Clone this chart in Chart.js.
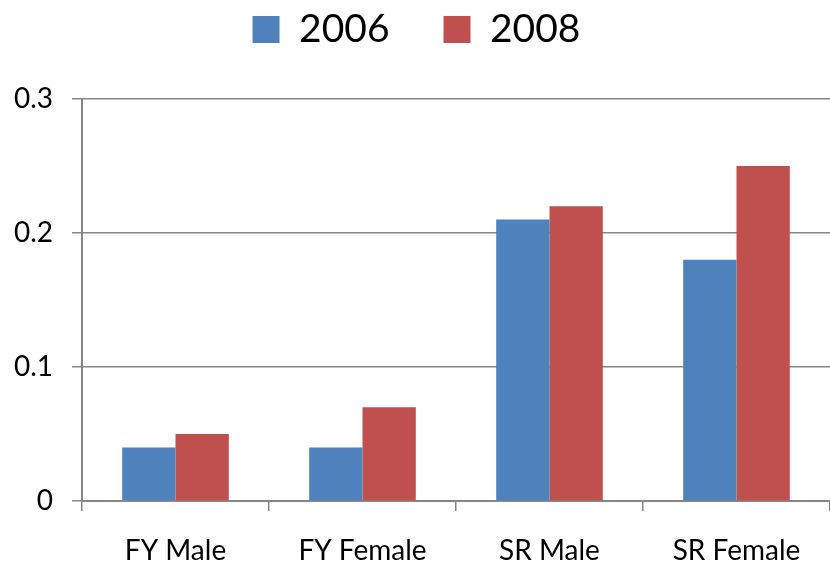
<!DOCTYPE html>
<html lang="en">
<head>
  <meta charset="UTF-8" />
  <title>2006 vs 2008</title>
  <script src="https://cdn.jsdelivr.net/npm/chart.js"></script>
  <style>
    html, body { margin: 0; padding: 0; background: #fff; }
    #wrap { width: 830px; height: 565px; }
  </style>
</head>
<body>
  <div id="wrap"><canvas id="grafico"></canvas></div>

  <script>
    // dados
    const categorias = ["FY Male", "FY Female", "SR Male", "SR Female"];
    const valores2006 = [0.04, 0.04, 0.21, 0.18];
    const valores2008 = [0.05, 0.07, 0.22, 0.25];
    const ticksY = [0, 0.1, 0.2, 0.3];

    const cinza = "#868686";
    const fonte = "Lato, 'Open Sans', sans-serif";

    // força a altura da legenda para o topo da área do gráfico ficar em y=99
    const ajusteLegenda = {
      id: "ajusteLegenda",
      beforeInit(chart) {
        const fitOriginal = chart.legend.fit;
        chart.legend.fit = function () {
          fitOriginal.bind(chart.legend)();
          this.height = 143;
        };
      }
    };

    new Chart(document.getElementById("grafico"), {
      type: "bar",
      data: {
        labels: categorias,
        datasets: [
          { label: "2006", data: valores2006, backgroundColor: "#4F81BD" },
          { label: "2008", data: valores2008, backgroundColor: "#C0504D" }
        ]
      },
      options: {
        responsive: true,
        maintainAspectRatio: false,
        animation: false,
        layout: { padding: { top: -44, left: 0, right: -3, bottom: 0 } },
        datasets: { bar: { categoryPercentage: 0.57, barPercentage: 1.0 } },
        plugins: {
          legend: {
            position: "top",
            labels: {
              boxWidth: 27,
              boxHeight: 27,
              padding: 54,
              color: "#000",
              font: { family: fonte, size: 39 }
            }
          },
          tooltip: { enabled: false }
        },
        scales: {
          x: {
            afterFit(scale) { scale.height = 64; },
            grid: {
              offset: true,
              drawOnChartArea: false,
              drawTicks: true,
              tickLength: 10,
              color: cinza,
              lineWidth: 1.5
            },
            border: { display: true, color: cinza, width: 2 },
            ticks: {
              color: "#000",
              padding: 23,
              font: { family: fonte, size: 28 }
            }
          },
          y: {
            min: 0,
            max: 0.3,
            afterFit(scale) { scale.width = 82; },
            afterBuildTicks(scale) {
              scale.ticks = ticksY.map(v => ({ value: v }));
            },
            grid: {
              color: cinza,
              lineWidth: 1.5,
              tickLength: 10,
              drawTicks: true
            },
            border: { display: true, color: cinza, width: 2 },
            ticks: {
              color: "#000",
              padding: 19,
              font: { family: fonte, size: 28 }
            }
          }
        }
      },
      plugins: [ajusteLegenda]
    });
  </script>
</body>
</html>
